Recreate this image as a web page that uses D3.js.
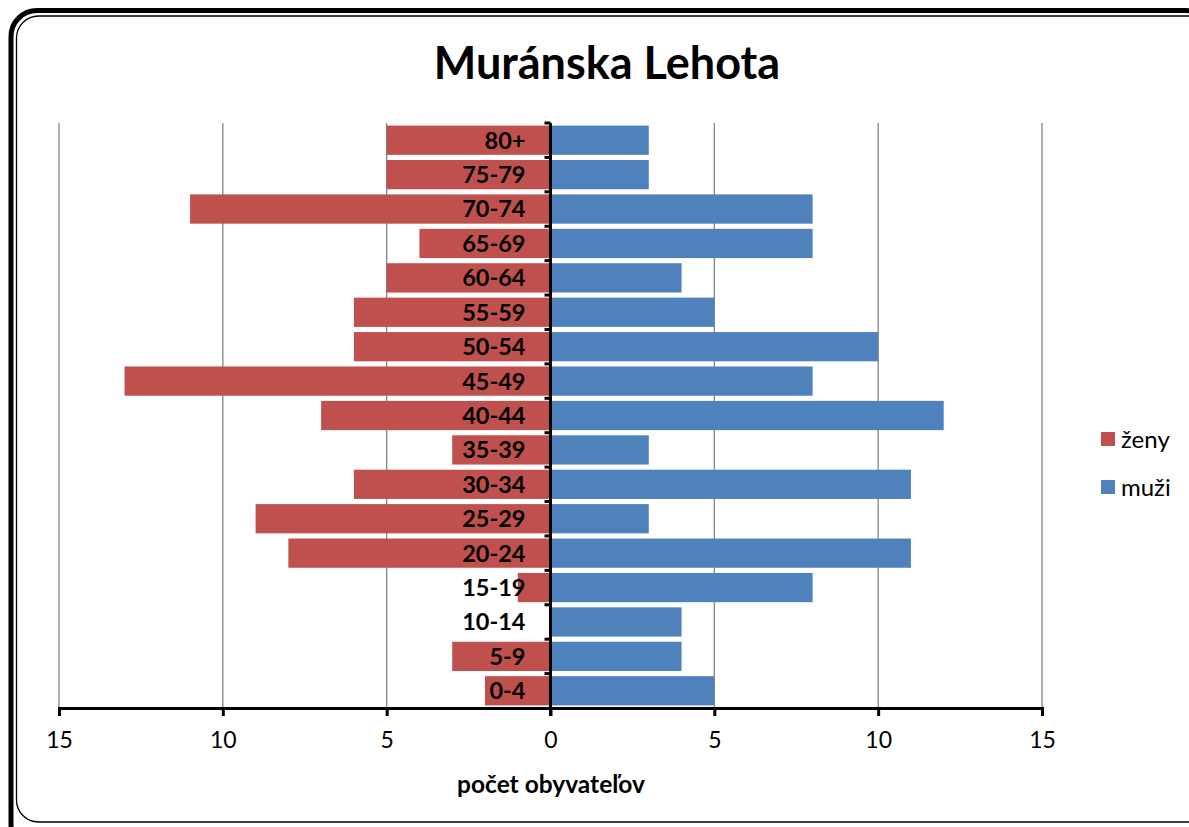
<!DOCTYPE html>
<html><head><meta charset="utf-8">
<script src="https://cdn.jsdelivr.net/npm/d3@7"></script>
<style>body{margin:0;background:#fff}svg{display:block}</style>
</head><body>
<script>
const categories = ["80+","75-79","70-74","65-69","60-64","55-59","50-54","45-49","40-44","35-39","30-34","25-29","20-24","15-19","10-14","5-9","0-4"];
const zeny = [5,5,11,4,5,6,6,13,7,3,6,9,8,1,0,3,2];
const muzi = [3,3,8,8,4,5,10,8,12,3,11,3,11,8,4,4,5];
const tickValues = [-15,-10,-5,0,5,10,15];
const seriesNames = ["ženy","muži"];
const colors = ["#C0504D","#4F81BD"];

const W=1189,H=827;
const font="Lato, 'Open Sans', sans-serif";
const svg=d3.select("body").append("svg").attr("width",W).attr("height",H);

// border
svg.append("rect").attr("x",11).attr("y",10.5).attr("width",1200).attr("height",840)
  .attr("rx",26).attr("fill","#fff").attr("stroke","#000").attr("stroke-width",5);
svg.append("rect").attr("x",16.5).attr("y",16).attr("width",1200).attr("height",806)
  .attr("rx",22).attr("fill","none").attr("stroke","#000").attr("stroke-width",1.3);

const x=d3.scaleLinear().domain([-15,15]).range([59,1042]);
const y=d3.scaleBand().domain(categories).range([123,708]).paddingInner(0.15).paddingOuter(0.075);

// grid
svg.append("g").selectAll("line").data(tickValues.filter(d=>d!==0)).join("line")
  .attr("x1",d=>x(d)).attr("x2",d=>x(d)).attr("y1",123).attr("y2",708)
  .attr("stroke","#868686").attr("stroke-width",1.3);

// bars
svg.append("g").selectAll("rect").data(categories).join("rect")
  .attr("x",(d,i)=>x(-zeny[i])).attr("width",(d,i)=>x(0)-x(-zeny[i]))
  .attr("y",d=>y(d)).attr("height",y.bandwidth()).attr("fill",colors[0]);
svg.append("g").selectAll("rect").data(categories).join("rect")
  .attr("x",x(0)).attr("width",(d,i)=>x(muzi[i])-x(0))
  .attr("y",d=>y(d)).attr("height",y.bandwidth()).attr("fill",colors[1]);

// x axis
const xa=svg.append("g").attr("transform","translate(0,708)")
  .call(d3.axisBottom(x).tickValues(tickValues).tickFormat(d=>Math.abs(d)).tickSize(8).tickPadding(16));
xa.select(".domain").attr("stroke","#000").attr("stroke-width",3);
xa.selectAll(".tick line").attr("stroke","#000").attr("stroke-width",3);
xa.selectAll(".tick text").attr("font-family",font).attr("font-size",23).attr("fill","#000");

// vertical axis at zero
svg.append("line").attr("x1",x(0)).attr("x2",x(0)).attr("y1",123).attr("y2",716)
  .attr("stroke","#000").attr("stroke-width",3);
const bounds=categories.map(c=>y(c)-y.step()*y.paddingInner()/2);
svg.append("g").selectAll("line").data(bounds).join("line")
  .attr("x1",x(0)-6).attr("x2",x(0)).attr("y1",d=>d).attr("y2",d=>d)
  .attr("stroke","#000").attr("stroke-width",3);

// category labels
svg.append("g").selectAll("text").data(categories).join("text")
  .attr("x",x(0)-25).attr("y",d=>y(d)+y.bandwidth()/2).attr("dy","0.36em")
  .attr("text-anchor","end").attr("font-family",font).attr("font-weight","bold")
  .attr("font-size",23.5).attr("fill","#000").text(d=>d);

// title
svg.append("text").attr("x",607).attr("y",79).attr("text-anchor","middle")
  .attr("font-family",font).attr("font-weight","bold").attr("font-size",45).text("Muránska Lehota");

// axis title
svg.append("text").attr("x",551).attr("y",793).attr("text-anchor","middle")
  .attr("font-family",font).attr("font-weight","bold").attr("font-size",24.5).text("počet obyvateľov");

// legend
const lg=svg.append("g").selectAll("g").data(seriesNames).join("g")
  .attr("transform",(d,i)=>`translate(1101,${432+i*48})`);
lg.append("rect").attr("width",14).attr("height",14).attr("fill",(d,i)=>colors[i]);
lg.append("text").attr("x",20).attr("y",7).attr("dy","0.36em").attr("font-family",font)
  .attr("font-size",24).text(d=>d);
</script>
</body></html>
